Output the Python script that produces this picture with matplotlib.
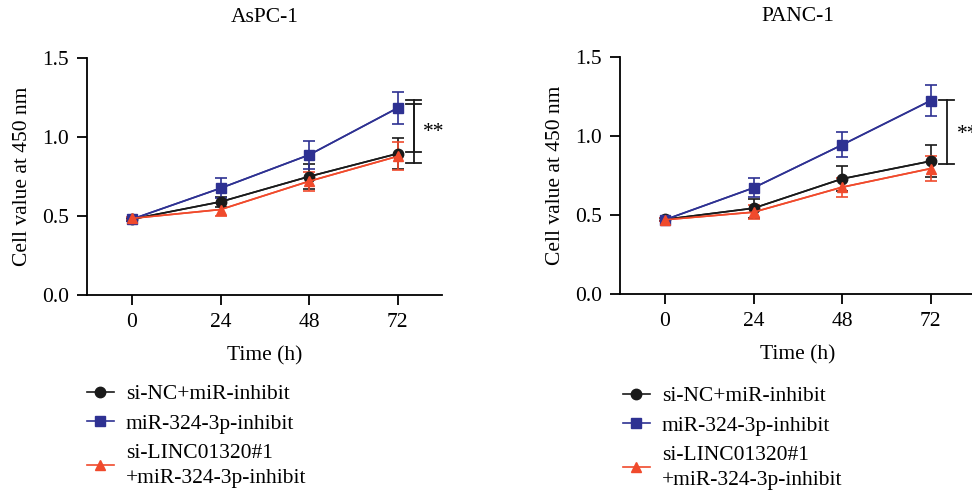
import matplotlib
matplotlib.use("Agg")
import matplotlib.pyplot as plt

plt.rcParams["font.family"] = ["Liberation Serif", "DejaVu Serif"]
plt.rcParams["font.size"] = 15.5

BLACK = "#1a1a1a"
BLUE = "#2e3192"
RED = "#f04a2c"

hours = [0, 24, 48, 72]
labels = ["si-NC+miR-inhibit", "miR-324-3p-inhibit", "si-LINC01320#1\n+miR-324-3p-inhibit"]

# AsPC-1
aspc_nc = [0.48, 0.59, 0.75, 0.895]
aspc_nc_err = [0.01, 0.03, 0.08, 0.10]
aspc_mir = [0.48, 0.676, 0.887, 1.184]
aspc_mir_err = [0.01, 0.065, 0.09, 0.10]
aspc_linc = [0.485, 0.541, 0.72, 0.878]
aspc_linc_err = [0.01, 0.04, 0.06, 0.09]

# PANC-1
panc_nc = [0.472, 0.543, 0.729, 0.841]
panc_nc_err = [0.01, 0.06, 0.08, 0.10]
panc_mir = [0.47, 0.672, 0.944, 1.224]
panc_mir_err = [0.01, 0.06, 0.08, 0.10]
panc_linc = [0.47, 0.518, 0.676, 0.794]
panc_linc_err = [0.01, 0.046, 0.06, 0.08]

# significance brackets: (x, top, bottom)
aspc_brackets = [(76.3, 1.237, 0.834), (76.3, 1.21, 0.906)]
panc_brackets = [(76.3, 1.228, 0.824)]

W, H = 972, 498
FS = 15.5
fig = plt.figure(figsize=(W / 100, H / 100), dpi=100)


def panel(rect, title, series, brackets, star_xy, legend_xy):
    ax = fig.add_axes(rect)
    styles = [("o", BLACK), ("s", BLUE), ("^", RED)]
    handles = []
    for (y, err), (m, c) in zip(series, styles):
        ax.errorbar(hours, y, yerr=err, color=c, ecolor=c, elinewidth=1.2, capsize=4, capthick=1.2, lw=1.2, zorder=3)
        h, = ax.plot(hours, y, color=c, lw=1.2, marker=m, markersize=7.5, zorder=4)
        handles.append(h)
    for x, top, bot in brackets:
        ax.plot([x, x], [bot, top], color=BLACK, lw=1.3, clip_on=False)
        ax.plot([x - 2, x + 2], [top, top], color=BLACK, lw=1.3, clip_on=False)
        ax.plot([x - 2, x + 2], [bot, bot], color=BLACK, lw=1.3, clip_on=False)
    ax.text(star_xy[0], star_xy[1], "**", ha="left", va="center", fontsize=FS, clip_on=False)

    ax.set_xlim(-12.2, 84)
    ax.set_ylim(0, 1.5)
    ax.set_xticks(hours)
    ax.set_yticks([0, 0.5, 1.0, 1.5])
    ax.set_yticklabels(["0.0", "0.5", "1.0", "1.5"])
    for s in ["top", "right"]:
        ax.spines[s].set_visible(False)
    for s in ["left", "bottom"]:
        ax.spines[s].set_linewidth(1.3)
    ax.tick_params(direction="out", length=7, width=1.3, labelsize=FS, pad=6)
    ax.set_xlabel("Time (h)", fontsize=FS, labelpad=10)
    ax.set_ylabel("Cell value at 450 nm", fontsize=FS, labelpad=7)
    ax.text(0.5, 1.0 + 41 / (rect[3] * H), title, transform=ax.transAxes, ha="center", va="center", fontsize=FS)

    leg = fig.legend(handles, labels, loc="upper left", bbox_to_anchor=legend_xy, frameon=False,
                     handlelength=1.25, handletextpad=0.55, labelspacing=0.45, borderpad=0, borderaxespad=0,
                     fontsize=FS)
    for t in leg.get_texts():
        t.set_linespacing(1.45)
    return ax


panel([87 / W, 1 - 295 / H, 355 / W, 237 / H], "AsPC-1",
      [(aspc_nc, aspc_nc_err), (aspc_mir, aspc_mir_err), (aspc_linc, aspc_linc_err)],
      aspc_brackets, (78.9, 1.03), (87 / W, 1 - 384 / H))
panel([620 / W, 1 - 294 / H, 355 / W, 237 / H], "PANC-1",
      [(panc_nc, panc_nc_err), (panc_mir, panc_mir_err), (panc_linc, panc_linc_err)],
      panc_brackets, (79.2, 1.01), (623 / W, 1 - 386 / H))

fig.savefig("out.png", dpi=100)
